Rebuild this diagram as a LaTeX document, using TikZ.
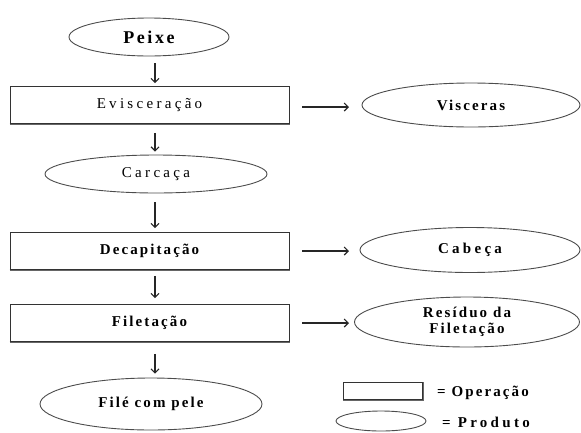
\documentclass[tikz,border=0pt]{standalone}
\usepackage{fontspec}
\setmainfont{Liberation Serif}
\newfontfamily\lbl{Liberation Serif}[LetterSpace=14]
\newfontfamily\lblw{Liberation Serif}[LetterSpace=22]
\usetikzlibrary{shapes.geometric,arrows.meta}
\begin{document}
\begin{tikzpicture}[x=1pt,y=-1pt,
  opbox/.style={rectangle,draw=black!80,line width=0.8pt,minimum width=279pt,minimum height=37pt,inner sep=0pt,
    font=\lbl\fontsize{15}{17}\selectfont\bfseries,
    append after command={\pgfextra{\draw[black!60,line width=1.5pt] (\tikzlastnode.south west) -- (\tikzlastnode.south east) -- (\tikzlastnode.north east);}}},
  prod/.style={ellipse,draw=black!70,line width=0.9pt,inner sep=0pt,align=center,
    font=\lbl\fontsize{15}{17}\selectfont\bfseries},
  arr/.style={draw=black!85,line width=1.2pt,-{Straight Barb[length=4pt,width=8pt,line width=1.1pt]}},
  legtxt/.style={anchor=west,inner sep=0pt,font=\lbl\fontsize{15}{17}\selectfont\bfseries}]
\useasboundingbox (0,0) rectangle (581,432);
\coordinate (axis) at (155,0);
\coordinate (harr) at (349,0);
\node[prod,minimum width=160pt,minimum height=38pt,font=\lbl\fontsize{18}{20}\selectfont\bfseries] (peixe) at (149,37) {Peixe};
\node[opbox,font=\lblw\fontsize{15}{17}\selectfont] (evisc) at (149.5,105) {Evisceração};
\node[prod,minimum width=222pt,minimum height=38pt,font=\lblw\fontsize{15}{17}\selectfont] (carcaca) at (156,174) {Carcaça};
\node[opbox] (decap) at (149.5,251) {Decapitação};
\node[opbox] (filet) at (149.5,323) {Filetação};
\node[prod,minimum width=222pt,minimum height=52pt] (file) at (151,404) {Filé com pele};
\node[prod,minimum width=218pt,minimum height=44pt] (visc) at (471,105) {Visceras};
\node[prod,minimum width=220pt,minimum height=45pt,font=\lblw\fontsize{15}{17}\selectfont\bfseries] (cabeca) at (470,250) {Cabeça};
\node[prod,minimum width=225pt,minimum height=50pt,font=\lbl\fontsize{15}{16}\selectfont\bfseries] (resid) at (467,322) {Resíduo da\\Filetação};
\node[opbox,minimum width=79pt,minimum height=17pt] (legop) at (383,391) {};
\node[prod,minimum width=90pt,minimum height=20pt] (legprod) at (381,421) {};
\node[legtxt] (tOp) at (437,393) {= Operação};
\node[legtxt,font=\lblw\fontsize{15}{17}\selectfont\bfseries] (tProd) at (442,422) {= Produto};
\draw[arr] ([yshift=-7pt]peixe.south -| axis) -- ([yshift=3pt]evisc.north -| axis);
\draw[arr] ([yshift=-9pt]evisc.south -| axis) -- ([yshift=3pt]carcaca.north -| axis);
\draw[arr] ([yshift=-9pt]carcaca.south -| axis) -- ([yshift=4pt]decap.north -| axis);
\draw[arr] ([yshift=-6pt]decap.south -| axis) -- ([yshift=6pt]filet.north -| axis);
\draw[arr] ([yshift=-12pt]filet.south -| axis) -- ([yshift=4pt]file.north -| axis);
\draw[arr,shorten <=13pt] ([yshift=-2pt]evisc.east) -- ([yshift=-2pt]evisc.east -| harr);
\draw[arr,shorten <=13pt] (decap.east) -- (decap.east -| harr);
\draw[arr,shorten <=13pt] (filet.east) -- (filet.east -| harr);
\end{tikzpicture}
\end{document}
